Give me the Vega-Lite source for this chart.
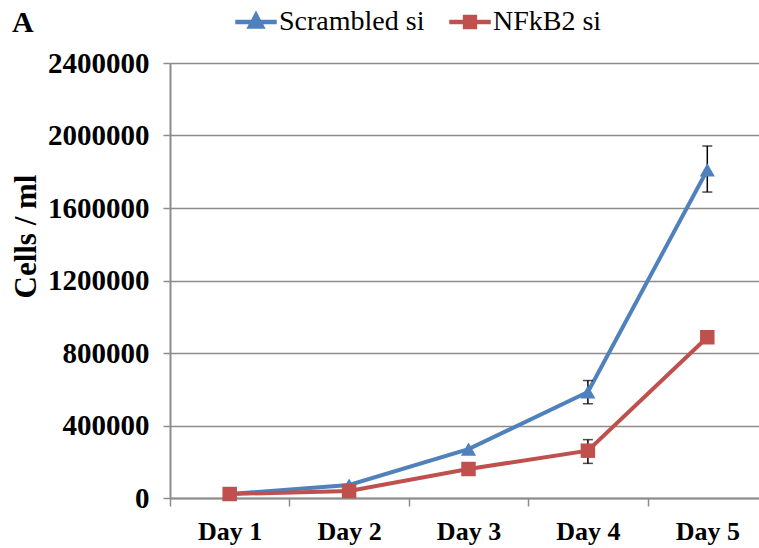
{
  "$schema": "https://vega.github.io/schema/vega-lite/v6.json",
  "autosize": "none",
  "padding": {"left": 170, "top": 63, "right": 0, "bottom": 50},
  "width": 597,
  "height": 435,
  "background": "white",
  "title": {"text": "A", "anchor": "start", "frame": "group", "dx": -158, "offset": 0, "dy": 37, "font": "Liberation Serif", "fontSize": 30, "fontWeight": "bold", "color": "black"},
  "data": {"values": [
    {"day": "Day 1", "series": "Scrambled si", "value": 22000},
    {"day": "Day 2", "series": "Scrambled si", "value": 72000},
    {"day": "Day 3", "series": "Scrambled si", "value": 270000},
    {"day": "Day 4", "series": "Scrambled si", "value": 585000, "lo": 520000, "hi": 648000},
    {"day": "Day 5", "series": "Scrambled si", "value": 1810000, "lo": 1688000, "hi": 1942000},
    {"day": "Day 1", "series": "NFkB2 si", "value": 22000},
    {"day": "Day 2", "series": "NFkB2 si", "value": 39000},
    {"day": "Day 3", "series": "NFkB2 si", "value": 160000},
    {"day": "Day 4", "series": "NFkB2 si", "value": 261000, "lo": 191000, "hi": 322000},
    {"day": "Day 5", "series": "NFkB2 si", "value": 887000}
  ]},
  "encoding": {
    "x": {"field": "day", "type": "nominal", "title": null,
      "axis": {"labelAngle": 0, "tickBand": "extent", "domainColor": "#8c8c8c", "domainWidth": 2, "tickColor": "#8c8c8c", "tickWidth": 1.5, "tickSize": 8, "labelPadding": 12, "labelFont": "Liberation Serif", "labelFontSize": 26, "labelFontWeight": "bold", "labelColor": "black", "grid": false}}
  },
  "layer": [
    {
      "mark": {"type": "line", "strokeWidth": 4},
      "encoding": {
        "y": {"field": "value", "type": "quantitative", "scale": {"domain": [0, 2400000]}, "title": "Cells / ml",
          "axis": {"values": [0, 400000, 800000, 1200000, 1600000, 2000000, 2400000], "format": "d", "grid": true, "gridColor": "#8c8c8c", "gridWidth": 1.5, "domainColor": "#8c8c8c", "domainWidth": 2, "tickColor": "#8c8c8c", "tickSize": 7, "tickWidth": 1.5, "labelPadding": 14, "labelFont": "Liberation Serif", "labelFontSize": 29, "labelFontWeight": "bold", "labelColor": "black", "titleFont": "Liberation Serif", "titleFontSize": 31, "titleFontWeight": "bold", "titleColor": "black", "titleX": -128, "titleY": 173, "titleAlign": "center", "titleBaseline": "bottom"}},
        "color": {"field": "series", "type": "nominal", "scale": {"domain": ["Scrambled si", "NFkB2 si"], "range": ["#4F81BD", "#C0504D"]},
          "legend": {"title": null, "orient": "none", "legendX": 65, "legendY": -62, "direction": "horizontal", "symbolSize": 1600, "labelFont": "Liberation Serif, DejaVu Serif, serif", "labelFontWeight": "normal", "labelFontSize": 28, "labelColor": "black", "labelOffset": 2, "columnPadding": 22, "labelLimit": 300}},
        "order": {"field": "day"}
      }
    },
    {
      "mark": {"type": "errorbar", "ticks": {"size": 10, "color": "black", "thickness": 1.5}, "rule": {"color": "black", "strokeWidth": 1.5}},
      "transform": [{"filter": "datum.lo != null"}],
      "encoding": {
        "y": {"field": "lo", "type": "quantitative", "title": "Cells / ml"},
        "y2": {"field": "hi"}
      }
    },
    {
      "transform": [{"filter": "datum.series == 'Scrambled si'"}],
      "mark": {"type": "point", "shape": "triangle-up", "filled": true, "size": 230, "opacity": 1},
      "encoding": {
        "y": {"field": "value", "type": "quantitative"},
        "color": {"field": "series", "type": "nominal"}
      }
    },
    {
      "transform": [{"filter": "datum.series == 'NFkB2 si'"}],
      "mark": {"type": "square", "filled": true, "size": 210, "opacity": 1},
      "encoding": {
        "y": {"field": "value", "type": "quantitative"},
        "color": {"field": "series", "type": "nominal"}
      }
    },
    {
      "transform": [{"filter": "datum.value < 0"}],
      "mark": {"type": "point", "filled": true, "size": 1600, "opacity": 1},
      "encoding": {
        "y": {"field": "value", "type": "quantitative"},
        "shape": {"field": "series", "type": "nominal", "scale": {"domain": ["Scrambled si", "NFkB2 si"], "range": ["M-1,-0.08H1V0.08H-1Z M0,-0.5L0.42,0.3H-0.42Z", "M-1,-0.08H1V0.08H-1Z M-0.32,-0.32H0.32V0.32H-0.32Z"]},
          "legend": {"title": null, "orient": "none", "legendX": 65, "legendY": -62, "direction": "horizontal", "symbolSize": 1600, "labelFont": "Liberation Serif, DejaVu Serif, serif", "labelFontWeight": "normal", "labelFontSize": 28, "labelColor": "black", "labelOffset": 2, "columnPadding": 22, "labelLimit": 300}},
        "color": {"field": "series", "type": "nominal"}
      }
    }
  ],
  "config": {"font": "Liberation Serif", "view": {"stroke": null}, "legend": {"labelFont": "Liberation Serif, DejaVu Serif, serif", "labelFontSize": 28, "labelColor": "black"}}
}
